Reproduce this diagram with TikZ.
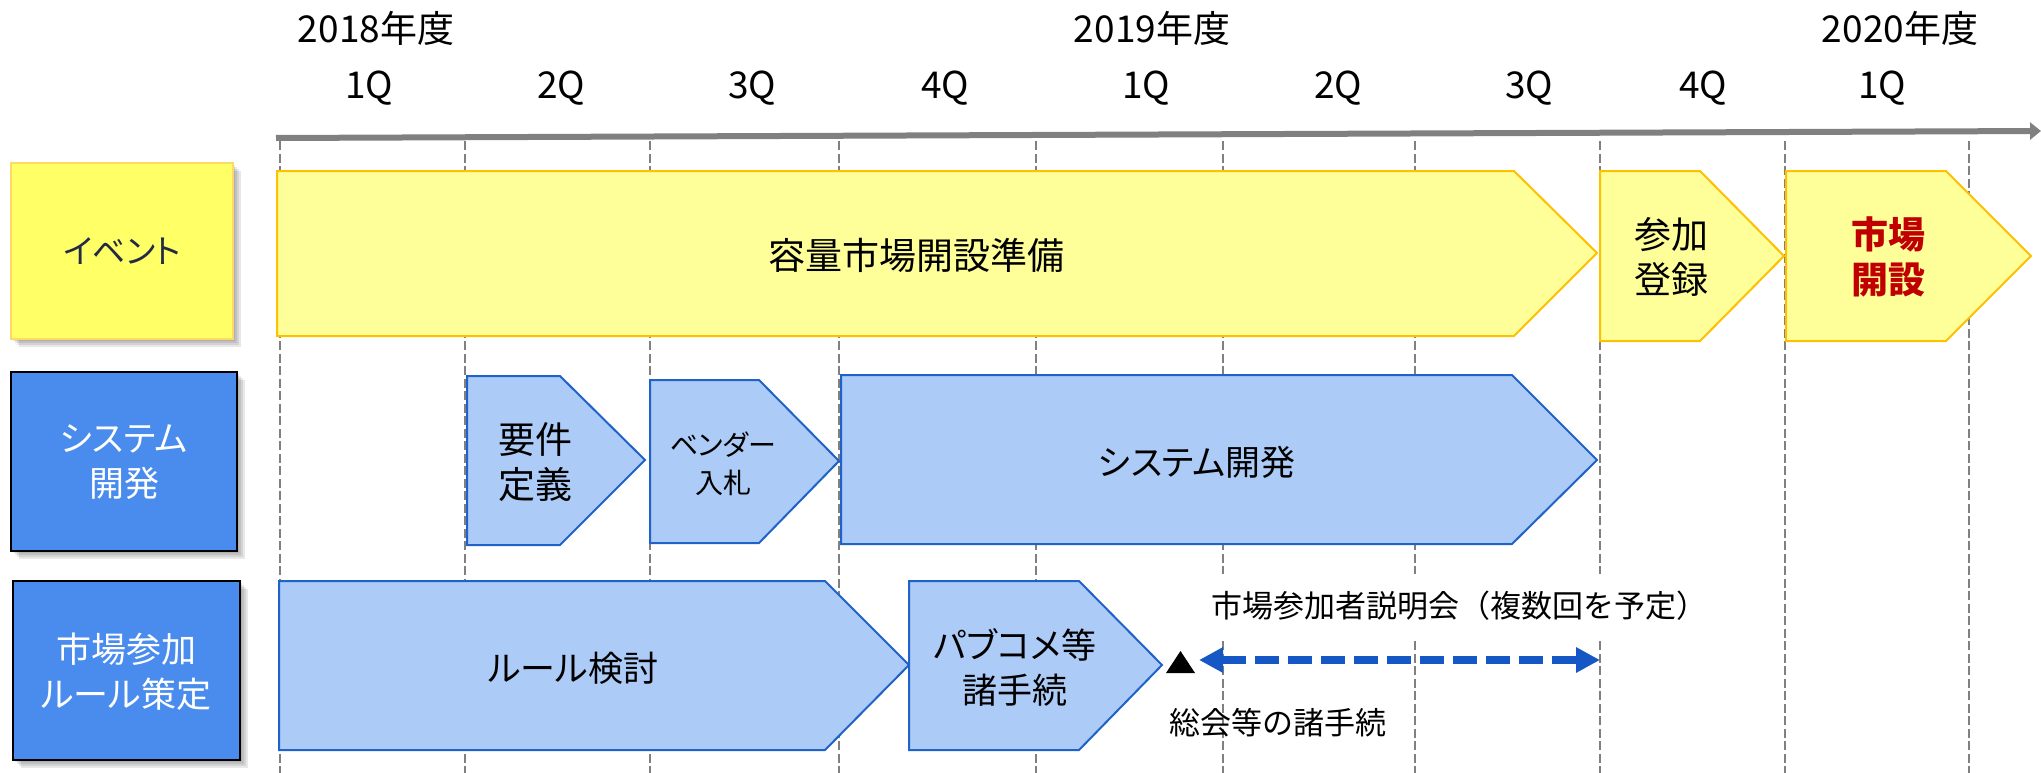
\documentclass[tikz,border=0pt]{standalone}
\usepackage{fontspec}
\setmainfont{Noto Sans CJK JP}
\newfontfamily\jpp[CharacterWidth=AlternateProportional]{Noto Sans CJK JP}
\usetikzlibrary{arrows.meta}
\definecolor{axisgray}{HTML}{808080}
\definecolor{lyellow}{HTML}{FFFF66}
\definecolor{lyellowbd}{HTML}{FFD966}
\definecolor{ayellow}{HTML}{FFFF99}
\definecolor{ayellowbd}{HTML}{FFC000}
\definecolor{lblue}{HTML}{4A8CEE}
\definecolor{ablue}{HTML}{ADCBF7}
\definecolor{abluebd}{HTML}{1F62C8}
\definecolor{darrow}{HTML}{1557C4}
\definecolor{navy}{HTML}{222A44}
\definecolor{dred}{HTML}{C00000}
\begin{document}
\begin{tikzpicture}[x=1pt,y=-1pt,
  big/.style={font=\fontsize{37}{45}\selectfont, align=center, inner sep=0pt},
  bigp/.style={font=\jpp\fontsize{35}{45}\selectfont, align=center, inner sep=0pt},
  tick/.style={font=\fontsize{37}{45}\selectfont, inner sep=0pt},
  note/.style={font=\fontsize{31}{36}\selectfont, inner sep=0pt},
  qline/.style={draw=axisgray, line width=2.7pt, dash pattern=on 9pt off 3.5pt},
  yarrow/.style={fill=ayellow, draw=ayellowbd, line width=2pt, line join=miter},
  barrow/.style={fill=ablue, draw=abluebd, line width=2pt, line join=miter},
  shadowbox/.style={fill=black, opacity=0.09},
]
\useasboundingbox (0,0) rectangle (2041,773);

% quarter dashed lines
\foreach \x in {280,465,650,839,1036,1223,1415,1600,1785,1969}
  \draw[qline] (\x,141) -- (\x,773);

% axis
\coordinate (axl) at (276,138);
\coordinate (axr) at (2041,131);
\draw[axisgray, line width=6pt, -{Triangle[length=11pt,width=17pt]}] (axl) -- (axr);

% years
\node[tick] (y2018) at (376,28) {2018年度};
\node[tick] (y2019) at (1152,28) {2019年度};
\node[tick] (y2020) at (1900,28) {2020年度};
% quarters
\node[tick] (q1) at (369,88) {1Q};
\node[tick] (q2) at (561,88) {2Q};
\node[tick] (q3) at (752,88) {3Q};
\node[tick] (q4) at (945,88) {4Q};
\node[tick] (q5) at (1146,88) {1Q};
\node[tick] (q6) at (1338,88) {2Q};
\node[tick] (q7) at (1529,88) {3Q};
\node[tick] (q8) at (1703,88) {4Q};
\node[tick] (q9) at (1882,88) {1Q};

% left label boxes with soft shadow
\foreach \a/\b/\c/\d in {11/163/233/339, 11/372/237/551, 13/581/240/760}{
  \foreach \s in {2,4,6,8}
    \fill[shadowbox] (\a+\s,\b+\s) rectangle (\c+\s,\d+\s);
}
\draw[fill=lyellow, draw=lyellowbd, line width=1.5pt] (11,163) rectangle (233,339);
\draw[fill=lblue, draw=black, line width=1.5pt] (11,372) rectangle (237,551);
\draw[fill=lblue, draw=black, line width=1.5pt] (13,581) rectangle (240,760);
\node[font=\jpp\fontsize{33}{45}\selectfont, inner sep=0pt, text=navy] (lev) at (122,251) {イベント};
\node[bigp, text=white] (lsys) at (124,462) {システム\\開発};
\node[bigp, text=white] (lrule) at (126,672) {市場参加\\ルール策定};

% yellow chevrons
\draw[yarrow] (277,171) -- (1514,171) -- (1597,253) -- (1514,336) -- (277,336) -- cycle;
\draw[yarrow] (1600,171) -- (1700,171) -- (1784,256) -- (1700,341) -- (1600,341) -- cycle;
\draw[yarrow] (1786,171) -- (1946,171) -- (2031,256) -- (1946,341) -- (1786,341) -- cycle;
\node[big] (prep) at (916,255) {容量市場開設準備};
\node[big] (reg) at (1671,257) {参加\\登録};
\node[big, text=dred, font=\bfseries\fontsize{37}{45}\selectfont] (open) at (1888,257) {市場\\開設};

% blue chevrons: system row
\draw[barrow] (467,376) -- (560,376) -- (645,460) -- (560,545) -- (467,545) -- cycle;
\draw[barrow] (650,380) -- (759,380) -- (839,461) -- (759,543) -- (650,543) -- cycle;
\draw[barrow] (841,375) -- (1512,375) -- (1597,460) -- (1512,544) -- (841,544) -- cycle;
\node[big] (req) at (535,462) {要件\\定義};
\node[font=\jpp\fontsize{28}{38}\selectfont, align=center, inner sep=0pt] (vend) at (723,464) {ベンダー\\入札};
\node[bigp] (sysdev) at (1197,462) {システム開発};

% blue chevrons: rule row
\draw[barrow] (279,581) -- (825,581) -- (909,665) -- (825,750) -- (279,750) -- cycle;
\draw[barrow] (909,581) -- (1079,581) -- (1162,665) -- (1079,750) -- (909,750) -- cycle;
\node[bigp] (rule) at (573,668) {ルール検討};
\node[font=\jpp\fontsize{35}{45}\selectfont, align=center, inner sep=0pt] (pub) at (1015,667) {パブコメ等\\諸手続};

% milestone triangle
\fill[black] (1166,673) -- (1195,673) -- (1180.5,651) -- cycle;
\coordinate (mark) at (1180.5,662);

% annotations
\node[note, anchor=west, fill=white, inner ysep=17pt, inner xsep=1pt] (brief) at (1210,606) {市場参加者説明会（複数回を予定）};
\node[note, anchor=west] (gen) at (1169,723) {総会等の諸手続};

% dashed double arrow
\coordinate (sl) at (1199,660);
\coordinate (sr) at (1600,660);
\draw[darrow, line width=8pt, dash pattern=on 24pt off 9pt,
  {Triangle[length=24pt,width=24pt]}-{Triangle[length=24pt,width=24pt]}] (sl) -- (sr);
\end{tikzpicture}
\end{document}
